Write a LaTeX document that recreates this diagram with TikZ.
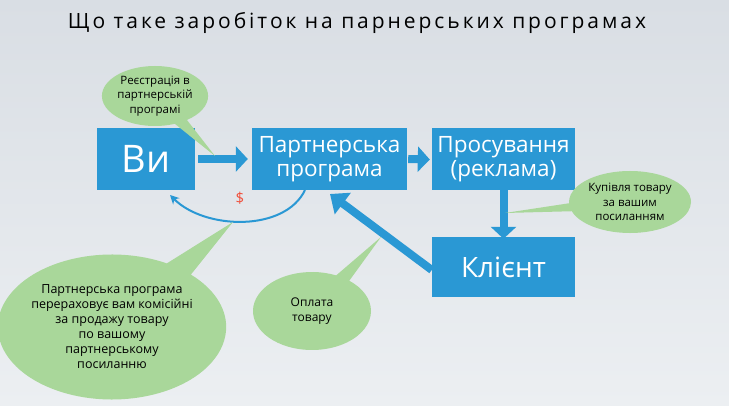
\documentclass[tikz,border=0pt]{standalone}
\usepackage{fontspec}
\setmainfont{Open Sans}
\usetikzlibrary{arrows.meta,shapes.callouts,shapes.geometric}
\definecolor{boxblue}{HTML}{2A98D4}
\definecolor{callgreen}{HTML}{A9D79A}
\definecolor{bgtop}{HTML}{D9DEE4}
\definecolor{bgbot}{HTML}{ECEFF2}
\definecolor{dollar}{HTML}{F0503C}
\tikzset{
  bluebox/.style={fill=boxblue, text=white, inner sep=0pt, align=center},
  blockarrow/.style={draw=boxblue, line width=8pt, -{Triangle[length=12pt,width=25pt]}},
  thinarrow/.style={draw=boxblue, line width=2pt, -{Stealth[length=9pt,width=9pt]}},
  bubble/.style={ellipse callout, fill=callgreen, draw=none, align=center, text=black, inner sep=0pt, font=\fontsize{11.5}{14.5}\selectfont}
}
\begin{document}
\begin{tikzpicture}[x=1pt,y=-1pt]
\shade[top color=bgtop, bottom color=bgbot] (0,0) rectangle (729,406);
\useasboundingbox (0,0) rectangle (729,406);
\node (title) at (357,23) {\fontspec{Open Sans}[LetterSpace=14]\fontsize{21}{24}\selectfont Що таке заробіток на парнерських програмах};
% boxes
\node[bluebox, minimum width=98pt, minimum height=62pt, font=\fontsize{38}{40}\selectfont] (vy) at (146,159) {Ви};
\node[bluebox, minimum width=155pt, minimum height=62pt, font=\fontsize{22.5}{24}\selectfont] (pp) at (329.5,159) {Партнерська\\програма};
\node[bluebox, minimum width=143pt, minimum height=62pt, font=\fontsize{22.5}{24}\selectfont] (pr) at (503.5,159.5) {Просування\\(реклама)};
\node[bluebox, minimum width=143pt, minimum height=60pt, font=\fontsize{28}{30}\selectfont] (kl) at (503.5,267) {Клієнт};
% block arrows
\draw[blockarrow] ([xshift=3pt]vy.east) -- ([xshift=-4pt]pp.west);
\draw[blockarrow] ([xshift=1pt]pp.east) -- ([xshift=-2pt]pr.west);
\draw[blockarrow] ([yshift=2pt]pr.south) -- ([yshift=-2pt]kl.north);
\coordinate (dtip) at (330,194);
\draw[blockarrow, -{Triangle[length=16pt,width=26pt]}] ([yshift=-3pt]kl.west) -- (dtip);
% curved arrow
\coordinate (cstart) at (305,190);
\coordinate (cend) at (170,195);
\draw[thinarrow] (cstart) .. controls (285,232) and (205,230) .. (cend);
\node[text=dollar, font=\fontsize{15}{16}\selectfont] (dol) at (240,198) {\$};
% callouts
\node[bubble, minimum width=106pt, minimum height=60pt, callout absolute pointer={(215,156)}] (c1) at (155,96) {Реєстрація в\\партнерській\\програмі};
\node[bubble, minimum width=122pt, minimum height=62pt, callout absolute pointer={(505,213)}] (c2) at (630,202) {Купівля товару\\за вашим\\посиланням};
\node[bubble, minimum width=208pt, minimum height=145pt, font=\fontsize{12.5}{15}\selectfont, callout absolute pointer={(233,222)}] (c3) at (112,327) {Партнерська програма\\перераховує вам комісійні\\за продажу товару\\по вашому\\партнерському\\посиланню};
\node[bubble, minimum width=118pt, minimum height=78pt, font=\fontsize{12}{15}\selectfont, callout absolute pointer={(381,237)}] (c4) at (312,311) {Оплата\\товару};
\end{tikzpicture}
\end{document}
